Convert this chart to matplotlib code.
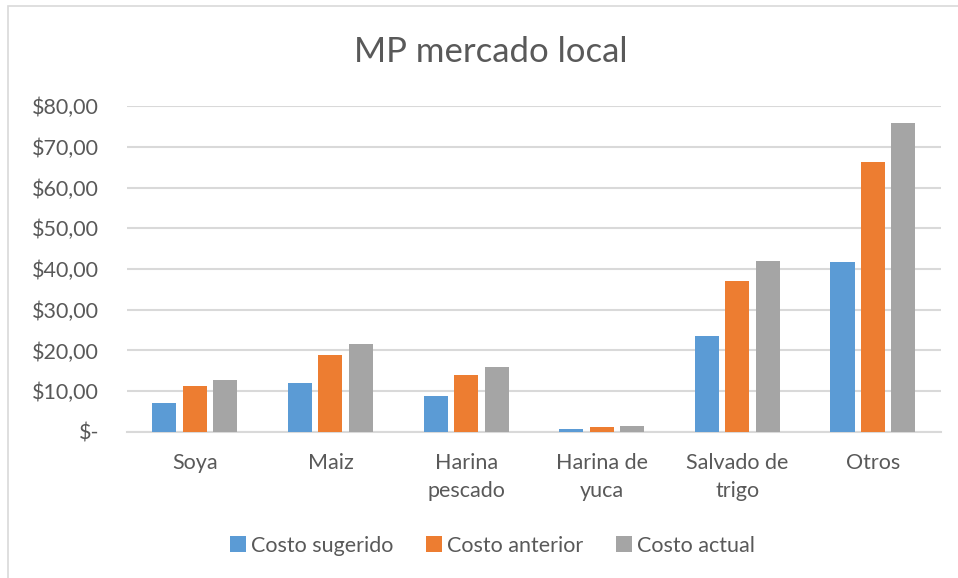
import numpy as np
import matplotlib.pyplot as plt
from matplotlib.patches import Rectangle

plt.rcParams['font.family'] = ['Lato', 'DejaVu Sans']

# Datos
categorias = ["Soya", "Maiz", "Harina\npescado", "Harina de\nyuca", "Salvado de\ntrigo", "Otros"]
costo_sugerido = [7.2, 12.0, 8.9, 0.8, 23.5, 41.8]
costo_anterior = [11.3, 19.0, 14.0, 1.3, 37.0, 66.2]
costo_actual = [12.8, 21.7, 16.0, 1.5, 42.0, 75.8]
series = ["Costo sugerido", "Costo anterior", "Costo actual"]
colores = ["#5B9BD5", "#ED7D31", "#A5A5A5"]
ticks_y = [0, 10, 20, 30, 40, 50, 60, 70, 80]
etiquetas_y = ["$-", "$10,00", "$20,00", "$30,00", "$40,00", "$50,00", "$60,00", "$70,00", "$80,00"]

texto = "#595959"
rejilla = "#d9d9d9"

fig = plt.figure(figsize=(9.58, 5.78), dpi=100)
fig.patches.append(Rectangle((0.008, -0.01), 1.1, 1.0, transform=fig.transFigure,
                             fill=False, edgecolor=rejilla, linewidth=1.2))
ax = fig.add_axes([0.1326, 0.2526, 0.8494, 0.564])

x = np.arange(len(categorias))
ancho = 0.177
paso = 0.2245
for i, (valores, nombre, color) in enumerate(zip([costo_sugerido, costo_anterior, costo_actual], series, colores)):
    ax.bar(x + (i - 1) * paso, valores, width=ancho, color=color, label=nombre, zorder=3)

ax.set_xlim(-0.5, len(categorias) - 0.5)
ax.set_ylim(0, 80)
ax.set_yticks(ticks_y)
ax.set_yticklabels(etiquetas_y, fontsize=15.5, color=texto)
ax.set_xticks(x)
ax.set_xticklabels(categorias, fontsize=15.5, color=texto, linespacing=1.5)
ax.tick_params(axis='y', length=0, pad=20)
ax.tick_params(axis='x', length=0, pad=15)
ax.grid(axis='y', color=rejilla, linewidth=1.5, zorder=0)
for lado in ["top", "right", "left"]:
    ax.spines[lado].set_visible(False)
ax.spines["bottom"].set_color(rejilla)
ax.spines["bottom"].set_linewidth(1.5)

fig.text(0.512, 0.91, "MP mercado local", ha='center', va='center', fontsize=25, color=texto)

fig.legend(loc='center', bbox_to_anchor=(0.514, 0.056), ncol=3, frameon=False,
           fontsize=15.5, labelcolor=texto, handlelength=0.75, handleheight=0.75,
           handletextpad=0.25, columnspacing=1.5)

plt.savefig("out.png", dpi=100)
